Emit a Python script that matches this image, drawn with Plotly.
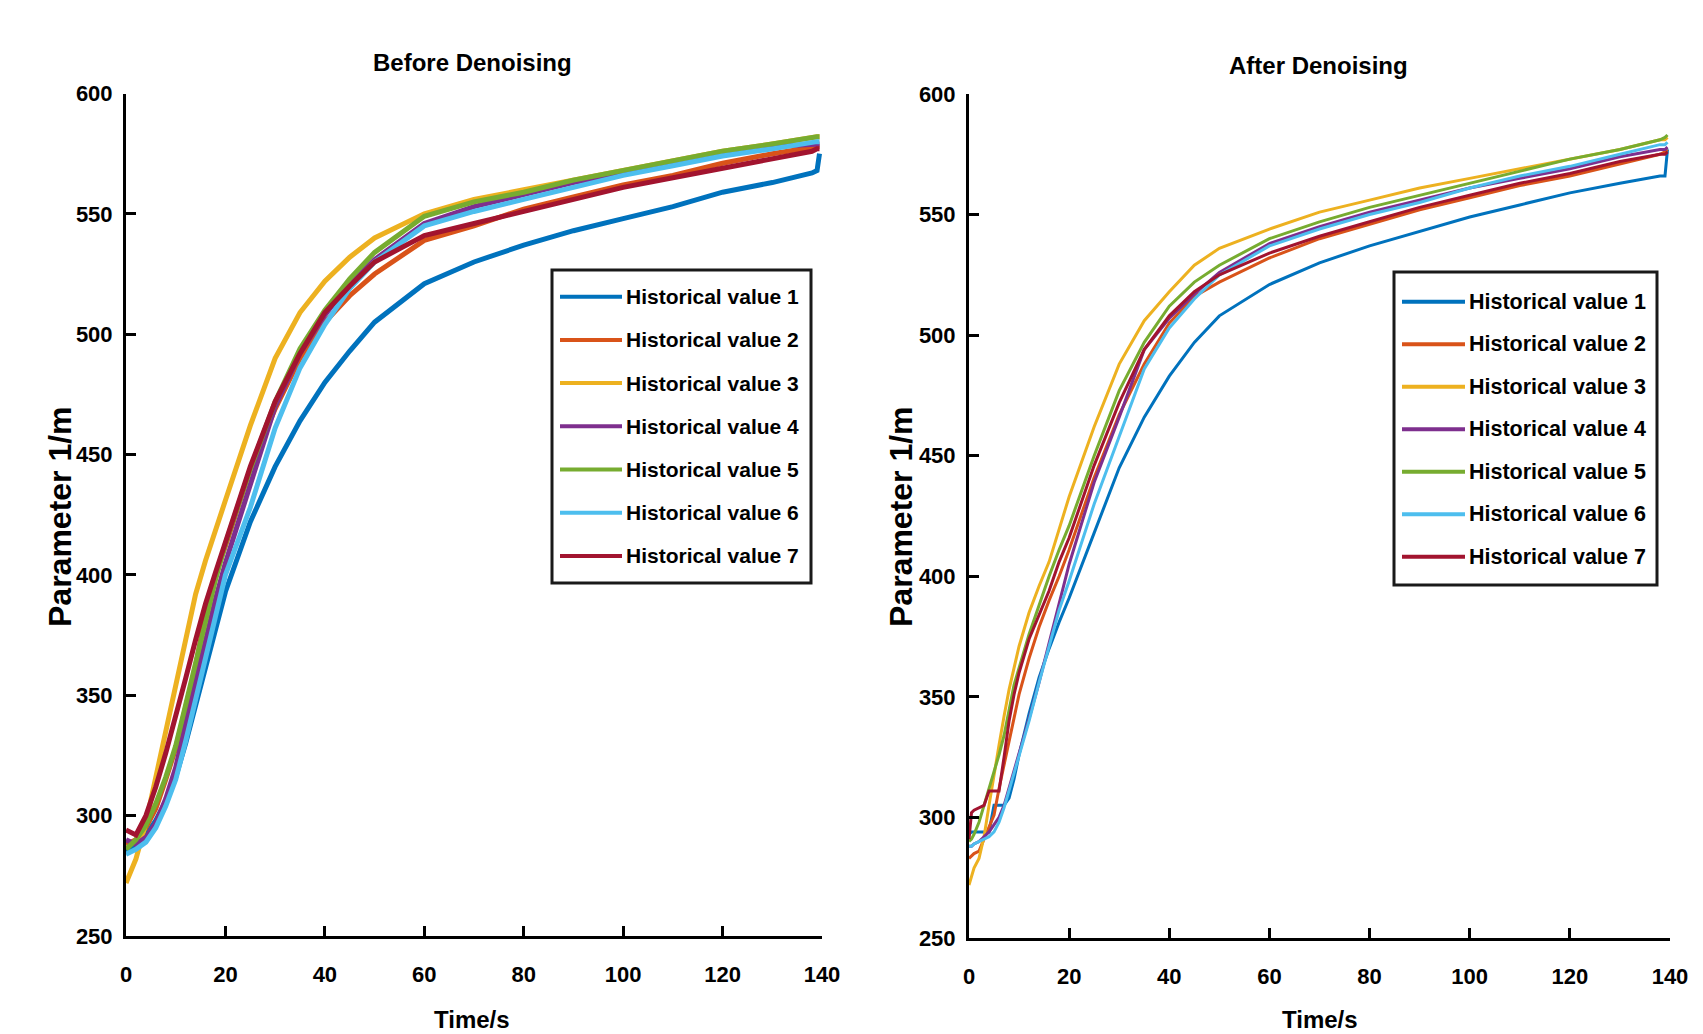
import plotly.graph_objects as go

W, H = 1703, 1034

NAMES = ["Historical value 1", "Historical value 2", "Historical value 3", "Historical value 4",
         "Historical value 5", "Historical value 6", "Historical value 7"]
COLORS = ["#0072BD", "#D95319", "#EDB120", "#7E2F8E", "#77AC30", "#4DBEEE", "#A2142F"]

X_TICKS = [0, 20, 40, 60, 80, 100, 120, 140]
Y_TICKS = [250, 300, 350, 400, 450, 500, 550, 600]

# ---- Before denoising (left panel) ----
T_L = [0, 2, 4, 6, 8, 10, 12, 14, 16, 18, 20, 25, 30, 35, 40, 45, 50, 60, 70, 80, 90, 100, 110, 120, 130, 138, 139, 139.5]
L1 = [285, 287, 292, 298, 306, 316, 330, 346, 362, 378, 393, 422, 445, 464, 480, 493, 505, 521, 530, 537, 543, 548, 553, 559, 563, 567, 568, 575]
L2 = [288, 290, 295, 303, 315, 328, 345, 362, 384, 400, 412, 444, 469, 490, 505, 516, 525, 539, 545, 552, 557, 562, 566, 571, 575, 578, 578, 578]
L3 = [272, 282, 297, 316, 336, 356, 375, 392, 406, 419, 431, 462, 490, 509, 522, 532, 540, 550, 556, 560, 564, 568, 572, 576, 579, 582, 582, 582]
L4 = [290, 288, 291, 297, 307, 320, 338, 356, 374, 390, 405, 438, 470, 492, 508, 521, 531, 546, 553, 558, 563, 567, 571, 575, 578, 579, 579, 579]
L5 = [286, 290, 296, 305, 316, 329, 346, 364, 382, 398, 413, 444, 472, 494, 510, 523, 534, 549, 555, 559, 564, 568, 572, 576, 579, 582, 582, 582]
L6 = [284, 286, 289, 295, 304, 315, 331, 348, 366, 384, 400, 428, 461, 486, 504, 519, 530, 545, 551, 556, 561, 566, 570, 574, 577, 580, 580, 580]
L7 = [294, 292, 300, 312, 326, 341, 357, 373, 388, 401, 414, 445, 472, 492, 509, 520, 530, 541, 546, 551, 556, 561, 565, 569, 573, 576, 577, 577]

# ---- After denoising (right panel) ----
T_R = [0, 0.5, 1, 2, 3, 4, 5, 6, 7, 8, 9, 10, 12, 14, 16, 18, 20, 25, 30, 35, 40, 45, 50, 60, 70, 80, 90, 100, 110, 120, 130, 138, 139, 139.5]
R1 = [293, 294, 294, 294, 294, 294, 305, 305, 305, 308, 316, 326, 343, 358, 370, 381, 391, 418, 445, 466, 483, 497, 508, 521, 530, 537, 543, 549, 554, 559, 563, 566, 566, 577]
R2 = [283, 284, 285, 286, 291, 296, 301, 312, 322, 331, 342, 351, 366, 379, 390, 400, 411, 441, 467, 488, 505, 516, 522, 532, 540, 546, 552, 557, 562, 566, 571, 575, 576, 577]
R3 = [272, 276, 279, 283, 292, 305, 318, 330, 342, 353, 362, 371, 385, 396, 406, 419, 433, 462, 488, 506, 518, 529, 536, 544, 551, 556, 561, 565, 569, 573, 577, 581, 581, 582]
R4 = [288, 288, 289, 290, 292, 294, 297, 300, 305, 312, 320, 327, 341, 356, 372, 389, 405, 439, 466, 494, 507, 517, 526, 538, 545, 551, 556, 561, 565, 569, 574, 577, 577, 578]
R5 = [290, 291, 293, 298, 305, 312, 318, 326, 334, 345, 355, 362, 376, 388, 400, 411, 421, 450, 477, 497, 512, 522, 529, 540, 547, 553, 558, 563, 568, 573, 577, 581, 582, 583]
R6 = [288, 288, 289, 290, 291, 292, 294, 298, 304, 311, 318, 326, 340, 356, 371, 386, 398, 430, 458, 486, 503, 515, 525, 537, 544, 550, 555, 561, 566, 570, 575, 579, 579, 580]
R7 = [291, 302, 303, 304, 305, 311, 311, 311, 325, 340, 351, 360, 374, 384, 394, 406, 416, 446, 472, 494, 508, 518, 525, 534, 541, 547, 553, 558, 563, 567, 572, 575, 575, 576]

LEFT = [L1, L2, L3, L4, L5, L6, L7]
RIGHT = [R1, R2, R3, R4, R5, R6, R7]

FONT = "Liberation Sans, Arial, sans-serif"


def px(x):
    return x / W


def py(y):
    return 1 - y / H


fig = go.Figure()
for vals, name, col in zip(LEFT, NAMES, COLORS):
    fig.add_trace(go.Scatter(x=T_L, y=vals, mode="lines", name=name,
                             line=dict(color=col, width=5), xaxis="x", yaxis="y",
                             showlegend=False))
for vals, name, col in zip(RIGHT, NAMES, COLORS):
    fig.add_trace(go.Scatter(x=T_R, y=vals, mode="lines", name=name,
                             line=dict(color=col, width=3), xaxis="x2", yaxis="y2",
                             showlegend=False))

tickfont = dict(family=FONT, size=22, color="black", weight="bold")
axis_common = dict(showline=True, linecolor="black", linewidth=3, ticks="inside",
                   ticklen=10, tickwidth=3, tickcolor="black", showgrid=False,
                   zeroline=False, tickfont=tickfont, fixedrange=True, automargin=False)

fig.update_layout(
    template="none",
    width=W, height=H, margin=dict(l=0, r=0, t=0, b=0, autoexpand=False),
    paper_bgcolor="white", plot_bgcolor="white",
    xaxis=dict(domain=[px(126), px(822)], range=[0, 140], tickvals=X_TICKS, anchor="y",
               ticklabelstandoff=17, **axis_common),
    yaxis=dict(domain=[py(936), py(93.5)], range=[250, 600], tickvals=Y_TICKS, anchor="x",
               ticklabelstandoff=6, **axis_common),
    xaxis2=dict(domain=[px(969), px(1670)], range=[0, 140], tickvals=X_TICKS, anchor="y2",
                ticklabelstandoff=17, **axis_common),
    yaxis2=dict(domain=[py(938), py(94)], range=[250, 600], tickvals=Y_TICKS, anchor="x2",
                ticklabelstandoff=6, **axis_common),
    showlegend=False,
)

ann = []
shapes = []


def text(x, y, s, size, angle=0, xanchor="center", yanchor="middle"):
    ann.append(dict(x=px(x), y=py(y), xref="paper", yref="paper", text=s, showarrow=False,
                    textangle=angle, xanchor=xanchor, yanchor=yanchor,
                    font=dict(family=FONT, size=size, color="black", weight="bold")))


# titles and axis labels
text(472, 63, "Before Denoising", 24)
text(1318, 66, "After Denoising", 24)
text(60, 516, "Parameter 1/m", 32, angle=-90)
text(901, 517, "Parameter 1/m", 32, angle=-90)
text(472, 1004, "Time/s", 24, yanchor="top")
text(1320, 1004, "Time/s", 24, yanchor="top")


def legend(box, row0, step, lx0, lx1, tx, size):
    x0, y0, x1, y1 = box
    shapes.append(dict(type="rect", xref="paper", yref="paper", x0=px(x0), x1=px(x1),
                       y0=py(y1), y1=py(y0), line=dict(color="#1a1a1a", width=3),
                       fillcolor="white", layer="above"))
    for k, (name, col) in enumerate(zip(NAMES, COLORS)):
        yy = row0 + k * step
        shapes.append(dict(type="line", xref="paper", yref="paper", x0=px(lx0), x1=px(lx1),
                           y0=py(yy), y1=py(yy), line=dict(color=col, width=4), layer="above"))
        text(tx, yy, name, size, xanchor="left")


legend((552, 270, 811, 583), 296.7, 43.2, 560, 622, 624, 21)
legend((1394, 272, 1657, 585), 301.7, 42.5, 1402, 1465, 1467, 21.5)

fig.update_layout(annotations=ann, shapes=shapes)
fig.write_html("out.html")
